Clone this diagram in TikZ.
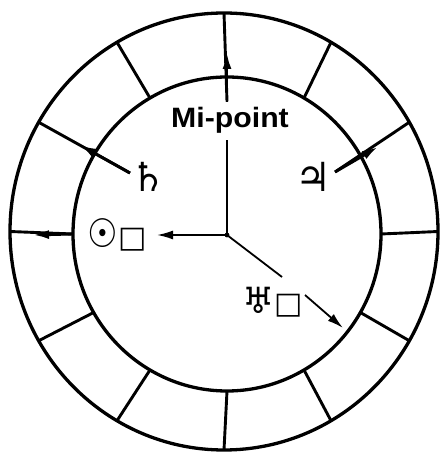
\documentclass[tikz,border=0pt]{standalone}
\usepackage{fontspec}
\setmainfont{Liberation Sans}
\newfontfamily\sym{DejaVu Sans}
\usetikzlibrary{arrows.meta,calc}
\newcommand\symsz[2]{{\fontsize{#1}{#1}\selectfont #2}}
\begin{document}
\begin{tikzpicture}[x=1pt,y=1pt,
  ring/.style={line width=3.3pt},
  spoke/.style={line width=2.9pt},
  hand/.style={line width=1.8pt},
  tip/.style={-{Latex[length=16pt,width=9pt]}},
  lbl/.style={inner sep=2pt, font=\sym},
]
\useasboundingbox (0,0) rectangle (440,454);
\fill[white] (0,0) rectangle (440,454);
\coordinate (OC) at (224,222.5);
\coordinate (IC) at (227,220);
\coordinate (C) at (227,219);
\draw[ring] (OC) ellipse [x radius=214, y radius=218.5];
\draw[ring] (IC) ellipse [x radius=154, y radius=157];
\foreach \a in {0,30,...,330} {
  \coordinate (i\a) at ($(IC)+(\a:154 and 157)$);
  \coordinate (o\a) at ($(OC)+(\a:214 and 218.5)$);
}
\foreach \a in {0,60,120,210,240,270,300,330}
  \draw[spoke] (i\a) -- (o\a);
% Mi-point
\node[font=\bfseries\fontsize{28}{28}\selectfont, inner sep=6pt, anchor=base] (mp) at (230,326) {\scalebox{1.08}[1]{Mi-point}};
\coordinate (upTip) at (227,401);
\draw[hand] (C) -- (mp.south -| C);
\draw[spoke] (mp.north -| C) -- (o90);
\draw[spoke,tip] (mp.north -| C) -- (upTip);
% Sun square
\node[lbl] (sun) at (117,219) {\symsz{30}{\scalebox{0.95}[1.1]{\symsz{36}{☉}}□}};
\coordinate (sunTip) at (157,219);
\draw[hand,tip] (C) -- (sunTip);
\coordinate (leftTip) at (33,219);
\draw[spoke] (i180) -- (o180);
\draw[spoke,tip] (i180) -- (leftTip);
% Saturn
\node[lbl] (sat) at (148,277) {\symsz{40}{♄}};
\coordinate (satS) at (130,281);
\coordinate (satTip) at (80,309);
\draw[spoke] (satS) -- (o150);
\draw[spoke,tip] (satS) -- (satTip);
% Jupiter
\node[lbl] (jup) at (313,277) {\symsz{40}{♃}};
\coordinate (jupS) at (335,282);
\coordinate (jupTip) at (378,307);
\draw[spoke] (jupS) -- (o30);
\draw[spoke,tip] (jupS) -- (jupTip);
% Uranus square
\node[lbl] (ura) at (273,152) {\symsz{36}{♅}\symsz{30}{□}};
\coordinate (urEnd) at (282,177);
\coordinate (urS) at (305,159);
\coordinate (urTip) at (343,126);
\draw[hand] (C) -- (urEnd);
\draw[hand,tip] (urS) -- (urTip);
\fill (C) circle (2.4);
\end{tikzpicture}
\end{document}
